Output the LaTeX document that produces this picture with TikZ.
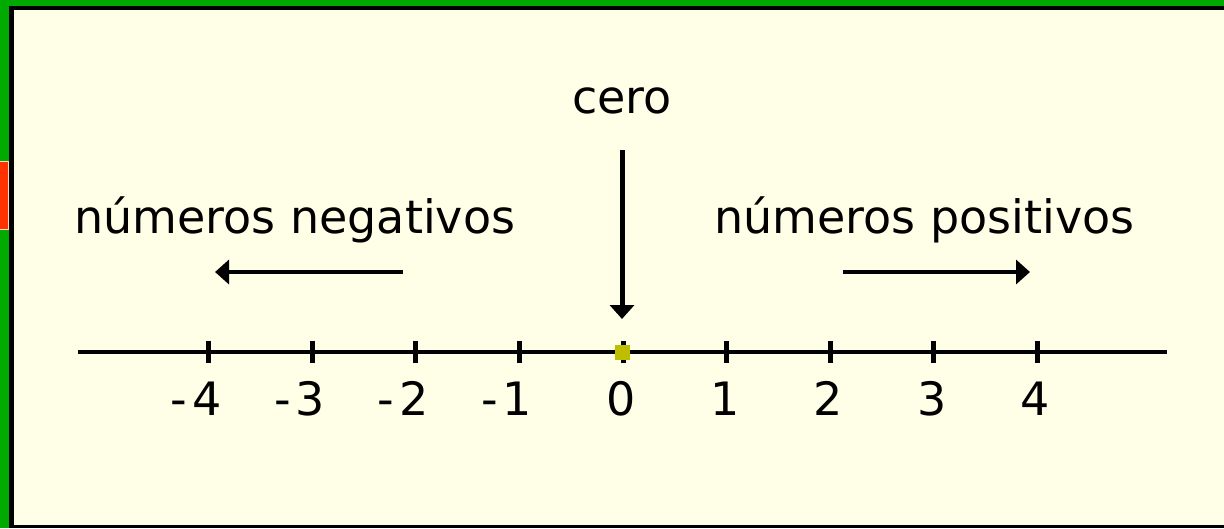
\documentclass[tikz,border=0pt]{standalone}
\usepackage{fontspec}
\setmainfont{DejaVu Sans}
\usepackage{xcolor}
\usepackage{tikz}
\usetikzlibrary{arrows.meta}
\definecolor{frame}{RGB}{0,170,0}
\definecolor{paper}{RGB}{255,255,232}
\definecolor{tab}{RGB}{255,51,0}
\definecolor{origin}{RGB}{190,190,0}
\newcommand{\bigtext}{\fontsize{46}{52}\selectfont}
\newcommand{\axistick}[3]{%
  \draw[line width=5pt] ({623+103.6*(#1)}, 341) -- ({623+103.6*(#1)}, 363);
  \node[anchor=base east, inner sep=0pt, font=\bigtext]
    (#2) at ({623+103.6*(#1)+13}, 415) {#3};}

\begin{document}
\begin{tikzpicture}[x=1pt, y=-1pt, >={Triangle[length=14pt, width=24pt]}]

\useasboundingbox (0,0) rectangle (1224,528);
\fill[frame] (0,0) rectangle (1224,528);
\fill[black] (9,6) rectangle (1224,528);
\fill[paper] (14,10) rectangle (1224,525);
\draw[white!80!tab, fill=tab, line width=1pt] (-1,161.5) rectangle (8.5,229.5);

\draw[line width=4pt] (78,352) -- (1167,352);

\axistick{-4}{mfour}{-\kern5pt4}
\axistick{-3}{mthree}{-\kern5pt3}
\axistick{-2}{mtwo}{-\kern5pt2}
\axistick{-1}{mone}{-\kern5pt1}
\axistick{0}{zero}{0}
\axistick{1}{one}{1}
\axistick{2}{two}{2}
\axistick{3}{three}{3}
\axistick{4}{four}{4}

\node[fill=origin, minimum size=15pt, inner sep=0pt] (dot) at (622,352) {};

\node[anchor=base, inner sep=0pt, font=\bigtext] (cero) at (622,113) {cero};
\node[anchor=base west, inner sep=0pt, font=\bigtext] (neg) at (74,233) {números negativos};
\node[anchor=base west, inner sep=0pt, font=\bigtext] (pos) at (714,233) {números positivos};

\coordinate (cerofrom) at (622,150);
\coordinate (cerotip) at (622,319);
\coordinate (negfrom) at (403,272);
\coordinate (negtip) at (215,272);
\coordinate (posfrom) at (843,272);
\coordinate (postip) at (1030,272);

\draw[->, line width=5pt] (cerofrom) -- (cerotip);
\draw[->, line width=4pt] (negfrom) -- (negtip);
\draw[->, line width=4pt] (posfrom) -- (postip);

\end{tikzpicture}
\end{document}
